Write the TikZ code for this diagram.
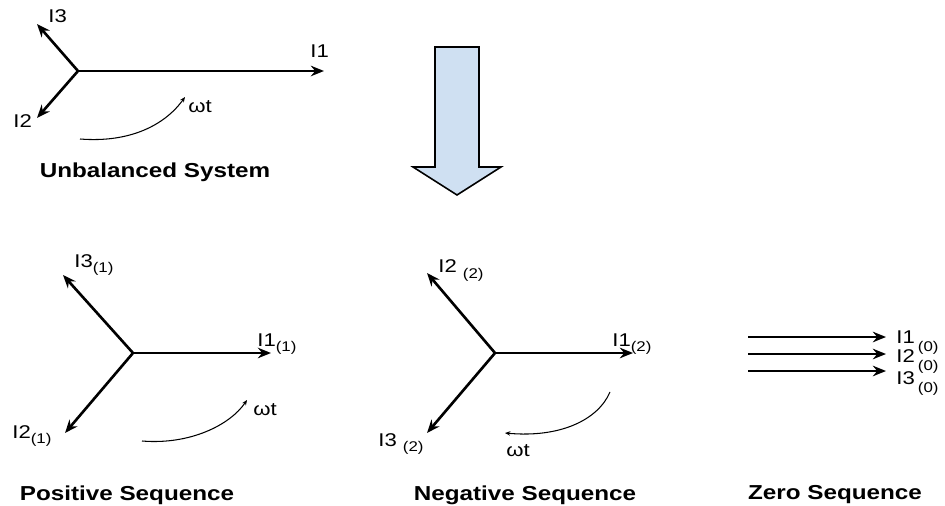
\documentclass[tikz,border=0pt]{standalone}
\usepackage{fontspec}
\setmainfont[FakeStretch=1.2]{Liberation Sans}
\usetikzlibrary{arrows.meta}

\definecolor{arrowfill}{HTML}{CFE0F2}
\newcommand{\phsub}[2][-3pt]{\raisebox{#1}{\fontsize{8}{9}\selectfont #2}}

\tikzset{
  phasor/.style={line width=1.5pt, -{Stealth[length=7.5pt,width=6pt,inset=2.5pt]}},
  rotation/.style={line width=0.6pt, -{Stealth[length=3pt,width=2.5pt]}},
  lbl/.style={font=\fontsize{10.5}{12}\selectfont, inner sep=0pt, anchor=base west},
  caption/.style={font=\bfseries\fontsize{11.5}{13}\selectfont, inner sep=0pt},
}

\begin{document}
\begin{tikzpicture}[x=0.02cm, y=-0.02cm]
  \useasboundingbox (0,0) rectangle (945,506);

  % Unbalanced system
  \coordinate (O0) at (78,71);
  \coordinate (u1) at (324,71);
  \coordinate (u2) at (37,118);
  \coordinate (u3) at (37,24);
  \coordinate (r0s) at (80,139);
  \coordinate (r0e) at (185,97);
  \node[lbl] (U1) at (310,58) {I1};
  \node[lbl] (U2) at (13,128) {I2};
  \node[lbl] (U3) at (48,23) {I3};
  \node[lbl] (W0) at (188,113) {ωt};
  \node[caption] (T0) at (155,172) {Unbalanced System};

  \draw[phasor] (O0) -- (u1);
  \draw[phasor] (O0) -- (u2);
  \draw[phasor] (O0) -- (u3);
  \draw[rotation] (r0s) .. controls (130,143) and (165,125) .. (r0e);

  % Block arrow
  \draw[line width=0.9pt, fill=arrowfill] (435,47) -- (479,47) -- (479,167)
    -- (501,167) -- (457,195) -- (413,167) -- (435,167) -- cycle;

  % Positive sequence
  \coordinate (O1) at (133,353);
  \coordinate (p1) at (271,353);
  \coordinate (p2) at (65,433);
  \coordinate (p3) at (63,275);
  \coordinate (r1s) at (142,441);
  \coordinate (r1e) at (247,400);
  \node[lbl] (P1) at (257,346) {I1\phsub{(1)}};
  \node[lbl] (P2) at (12,438) {I2\phsub{(1)}};
  \node[lbl] (P3) at (74,267) {I3\phsub{(1)}};
  \node[lbl] (W1) at (253,415) {ωt};
  \node[caption] (T1) at (127,495) {Positive Sequence};

  \draw[phasor] (O1) -- (p1);
  \draw[phasor] (O1) -- (p2);
  \draw[phasor] (O1) -- (p3);
  \draw[rotation] (r1s) .. controls (190,445) and (230,425) .. (r1e);

  % Negative sequence
  \coordinate (O2) at (495,353);
  \coordinate (n1) at (633,353);
  \coordinate (n2) at (427,273);
  \coordinate (n3) at (427,433);
  \coordinate (r2s) at (610,392);
  \coordinate (r2e) at (505,433);
  \node[lbl] (N1) at (612,346) {I1\phsub{(2)}};
  \node[lbl] (N2) at (438,273) {I2 \phsub{(2)}};
  \node[lbl] (N3) at (378,446) {I3 \phsub{(2)}};
  \node[lbl] (W2) at (506,456) {ωt};
  \node[caption] (T2) at (525,495) {Negative Sequence};

  \draw[phasor] (O2) -- (n1);
  \draw[phasor] (O2) -- (n2);
  \draw[phasor] (O2) -- (n3);
  \draw[rotation] (r2s) .. controls (598,420) and (560,438) .. (r2e);

  % Zero sequence
  \foreach \k/\y/\b in {1/337/343, 2/354/362, 3/371/384} {
    \coordinate (z\k s) at (748,\y);
    \coordinate (z\k e) at (886,\y);
    \node[lbl] (Z\k) at (896,\b) {I\k\,\phsub[-5pt]{(0)}};
    \draw[phasor] (z\k s) -- (z\k e);
  }
  \node[caption] (T3) at (835,495) {Zero Sequence};
\end{tikzpicture}
\end{document}
